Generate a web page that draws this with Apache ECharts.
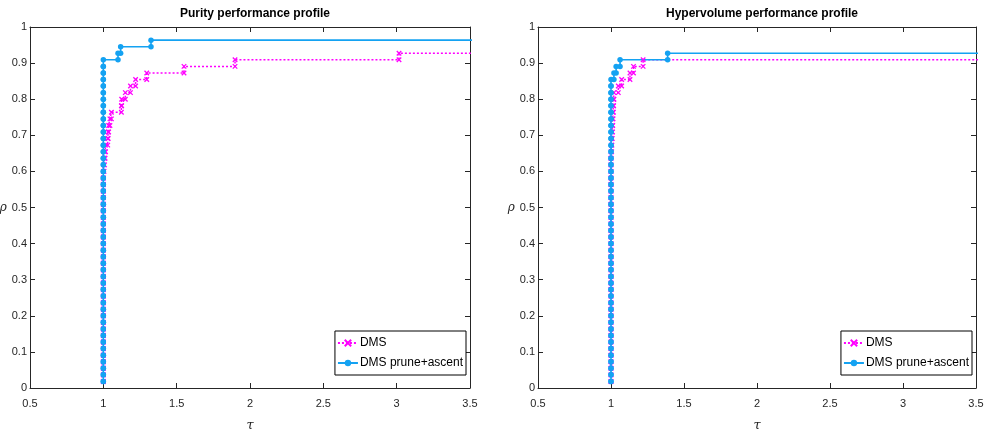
<!DOCTYPE html>
<html>
<head>
<meta charset="utf-8">
<script src="https://cdn.jsdelivr.net/npm/echarts@6/dist/echarts.min.js"></script>
<style>
html,body{margin:0;padding:0;background:#fff;}
#chart{width:989px;height:434px;}
</style>
</head>
<body>
<div id="chart"></div>
<script>
// ---- data (performance ratios tau per solved problem, sorted) ----
const nProblems = 55;
const titles = ['Purity performance profile', 'Hypervolume performance profile'];
const seriesNames = ['DMS', 'DMS prune+ascent'];
const xTicks = [0.5, 1, 1.5, 2, 2.5, 3, 3.5];
const yTicks = [0, 0.1, 0.2, 0.3, 0.4, 0.5, 0.6, 0.7, 0.8, 0.9, 1];
const tauEnd = 4;

const tauDMS_purity = [
  1,1,1,1,1,1,1,1,1,1, 1,1,1,1,1,1,1,1,1,1, 1,1,1,1,1,1,1,1,1,1, 1,1,1,
  1.005, 1.008, 1.012, 1.015, 1.03, 1.033, 1.036, 1.045, 1.055,
  1.123, 1.125, 1.15, 1.185, 1.22, 1.296, 1.55, 1.898, 3.016
];
const tauPrune_purity = [
  1,1,1,1,1,1,1,1,1,1, 1,1,1,1,1,1,1,1,1,1, 1,1,1,1,1,1,1,1,1,1,
  1,1,1,1,1,1,1,1,1,1, 1,1,1,1,1,1,1,1,1,1,
  1.10, 1.118, 1.325
];
const tauDMS_hv = [
  1,1,1,1,1,1,1,1,1,1, 1,1,1,1,1,1,1,1,1,1, 1,1,1,1,1,1,1,1,1,1, 1,1,1,1,1,1,
  1.004, 1.006, 1.008, 1.01, 1.012, 1.014, 1.016, 1.018,
  1.02, 1.05, 1.073, 1.13, 1.154, 1.22
];
const tauPrune_hv = [
  1,1,1,1,1,1,1,1,1,1, 1,1,1,1,1,1,1,1,1,1, 1,1,1,1,1,1,1,1,1,1,
  1,1,1,1,1,1,1,1,1,1, 1,1,1,1,1,1,1,
  1.02, 1.035, 1.062, 1.388
];

// ---- build MATLAB-like stairs ----
function stairs(taus) {
  const pts = [];
  for (let i = 0; i < taus.length; i++) {
    if (i > 0) pts.push([taus[i], i / nProblems]);
    pts.push([taus[i], (i + 1) / nProblems]);
  }
  pts.push({value: [tauEnd, taus.length / nProblems], symbol: 'none'});
  return pts;
}

const FONT = "'Liberation Sans', Arial, sans-serif";
const AX = '#262626';
const PINK = '#ff00ff';
const BLUE = '#14a2f2';
const XMARK = 'path://M0,0L10,10M10,0L0,10';

const grids = [
  {left: 30, top: 27, width: 440, height: 361, outerBoundsMode: 'none', containLabel: false},
  {left: 538, top: 27, width: 438, height: 361, outerBoundsMode: 'none', containLabel: false}
];

const xAxis = [], yAxis = [], series = [], title = [], legend = [];
grids.forEach((g, gi) => {
  title.push({
    text: titles[gi], left: g.left + g.width / 2, top: 3, textAlign: 'center',
    textStyle: {fontFamily: FONT, fontWeight: 'bold', fontSize: 12, color: '#000'}
  });
  xAxis.push({
    gridIndex: gi, type: 'value', min: xTicks[0], max: xTicks[xTicks.length - 1], interval: 0.5,
    position: 'bottom', name: 'τ', nameLocation: 'middle', nameGap: 31,
    nameTextStyle: {fontFamily: 'DejaVu Serif', fontStyle: 'italic', fontSize: 13, color: AX},
    axisLine: {onZero: false, lineStyle: {color: AX, width: 1}},
    axisTick: {inside: true, length: 5, lineStyle: {color: AX}},
    axisLabel: {margin: 10, fontFamily: FONT, fontSize: 11, color: AX},
    splitLine: {show: false}
  });
  xAxis.push({
    gridIndex: gi, type: 'value', min: xTicks[0], max: xTicks[xTicks.length - 1], interval: 0.5,
    position: 'top',
    axisLine: {onZero: false, lineStyle: {color: AX, width: 1}},
    axisTick: {inside: true, length: 5, lineStyle: {color: AX}},
    axisLabel: {show: false}, splitLine: {show: false}
  });
  yAxis.push({
    gridIndex: gi, type: 'value', min: yTicks[0], max: yTicks[yTicks.length - 1], interval: 0.1,
    position: 'left', name: 'ρ', nameLocation: 'middle', nameGap: 17, nameRotate: 0,
    nameTextStyle: {fontFamily: 'DejaVu Serif', fontStyle: 'italic', fontSize: 12, color: AX,
                    padding: [6, 0, 0, 0]},
    axisLine: {onZero: false, lineStyle: {color: AX, width: 1}},
    axisTick: {inside: true, length: 5, lineStyle: {color: AX}},
    axisLabel: {margin: 3, fontFamily: FONT, fontSize: 11, color: AX},
    splitLine: {show: false}
  });
  yAxis.push({
    gridIndex: gi, type: 'value', min: yTicks[0], max: yTicks[yTicks.length - 1], interval: 0.1,
    position: 'right',
    axisLine: {onZero: false, lineStyle: {color: AX, width: 1}},
    axisTick: {inside: true, length: 5, lineStyle: {color: AX}},
    axisLabel: {show: false}, splitLine: {show: false}
  });
  legend.push({
    right: 989 - (g.left + g.width) + 4, top: 331, orient: 'vertical',
    backgroundColor: '#fff', borderColor: '#000', borderWidth: 1, borderRadius: 0,
    padding: [6, 3, 6, 2], itemGap: 8, itemWidth: 20, itemHeight: 8,
    textStyle: {fontFamily: FONT, fontSize: 12, color: '#000', padding: [0, 0, 0, -3]},
    data: seriesNames, selectedMode: false
  });
});

const perGrid = [[tauDMS_purity, tauPrune_purity], [tauDMS_hv, tauPrune_hv]];
perGrid.forEach((pair, gi) => {
  series.push({
    name: seriesNames[0], type: 'line', xAxisIndex: gi * 2, yAxisIndex: gi * 2,
    data: stairs(pair[0]), symbol: XMARK, symbolSize: 4.5, showAllSymbol: true,
    color: PINK, animation: false, clip: true,
    lineStyle: {color: PINK, width: 1.5, type: [2, 2]},
    itemStyle: {color: PINK, borderColor: PINK, borderWidth: 1.3}
  });
  series.push({
    name: seriesNames[1], type: 'line', xAxisIndex: gi * 2, yAxisIndex: gi * 2,
    data: stairs(pair[1]), symbol: 'circle', symbolSize: 5.5, showAllSymbol: true,
    color: BLUE, animation: false, clip: true,
    lineStyle: {color: BLUE, width: 1.6},
    itemStyle: {color: BLUE, borderWidth: 0}
  });
});

const chart = echarts.init(document.getElementById('chart'), null, {renderer: 'canvas'});
chart.setOption({
  backgroundColor: '#fff', animation: false,
  title, grid: grids, xAxis, yAxis, legend, series
});
</script>
</body>
</html>
